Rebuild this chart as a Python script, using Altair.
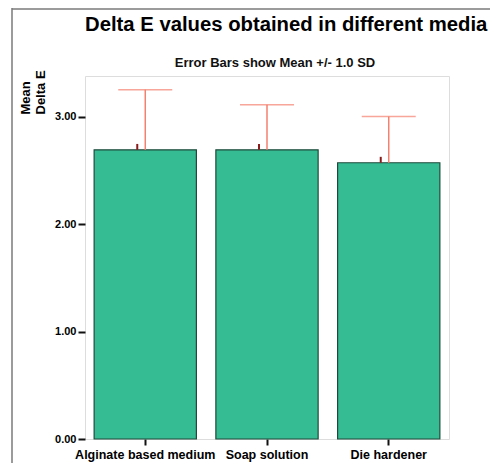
import altair as alt
import pandas as pd

categories = ["Alginate based medium", "Soap solution", "Die hardener"]
means = [2.69, 2.69, 2.57]
sds = [0.56, 0.42, 0.43]

df = pd.DataFrame({
    "medium": categories,
    "mean": means,
    "upper": [m + s for m, s in zip(means, sds)],
    "mark_top": [m + 0.055 for m in means],
})

FONT = "Liberation Sans"
W, H = 364, 363
PAD = {"left": 77, "top": 68, "right": 41, "bottom": 24}

xenc = alt.X("medium:N", sort=categories,
             scale=alt.Scale(paddingInner=0.16, paddingOuter=0.075),
             axis=alt.Axis(title=None, labelAngle=0, labelFont=FONT, labelFontSize=12.5,
                           labelFontWeight="bold", labelColor="#000", tickColor="#111",
                           tickSize=6, tickWidth=2, labelPadding=3, domain=False))
yscale = alt.Scale(domain=[0, 3.377], nice=False)
yaxis = alt.Axis(values=[0, 1, 2, 3], format=".2f", title=["Mean", "Delta E"],
                 titleAngle=-90, titleX=-66, titleY=38, titleAlign="left",
                 titleBaseline="top", titleFont=FONT, titleFontSize=13,
                 titleFontWeight="bold", titleColor="#000", titleLineHeight=15,
                 labelFont=FONT, labelFontSize=11, labelFontWeight="bold",
                 labelColor="#000", tickColor="#111", tickSize=7, tickWidth=2,
                 labelPadding=2, grid=False, domain=False)

base = alt.Chart(df)
one = pd.DataFrame({"a": [0]})

left_border = alt.Chart(one).mark_rule(stroke="#7a7a7a", strokeWidth=1.5).encode(
    x=alt.value(-73), y=alt.value(-68), y2=alt.value(H + PAD["bottom"]))
top_border = alt.Chart(one).mark_rule(stroke="#7a7a7a", strokeWidth=1.5).encode(
    x=alt.value(-73), x2=alt.value(W + PAD["right"]), y=alt.value(-67))

bars = base.mark_bar(color="#35BC93", stroke="#1F4A3B", strokeWidth=1.2).encode(
    x=xenc, y=alt.Y("mean:Q", scale=yscale, axis=yaxis))

err = base.mark_rule(color="#F5806E", strokeWidth=1.5).encode(
    x=alt.X("medium:N", sort=categories), y="mean:Q", y2="upper:Q")

caps = base.mark_tick(color="#F5806E", thickness=1.5, size=54, orient="horizontal").encode(
    x=alt.X("medium:N", sort=categories), y="upper:Q")

meanmark = base.mark_rule(color="#8B1A1A", strokeWidth=2, xOffset=-8).encode(
    x=alt.X("medium:N", sort=categories), y="mean:Q", y2="mark_top:Q")

title = alt.Chart(pd.DataFrame({"t": ["Delta E values obtained in different media"]})).mark_text(
    font=FONT, fontSize=20.3, fontWeight="bold", align="left", baseline="alphabetic", color="#000"
).encode(text="t:N", x=alt.value(0), y=alt.value(-45))

subtitle = alt.Chart(pd.DataFrame({"t": ["Error Bars show Mean +/- 1.0 SD"]})).mark_text(
    font=FONT, fontSize=13, fontWeight="bold", align="center", baseline="alphabetic", color="#111"
).encode(text="t:N", x=alt.value(190), y=alt.value(-9))

chart = alt.layer(left_border, top_border, bars, err, caps, meanmark, title, subtitle).properties(
    width=W, height=H,
    autosize=alt.AutoSizeParams(type="none"),
    padding=PAD,
).configure_view(stroke="#999999", strokeWidth=2).configure(background="white")

chart.save("out.html", embed_options={"renderer": "svg", "actions": False})
